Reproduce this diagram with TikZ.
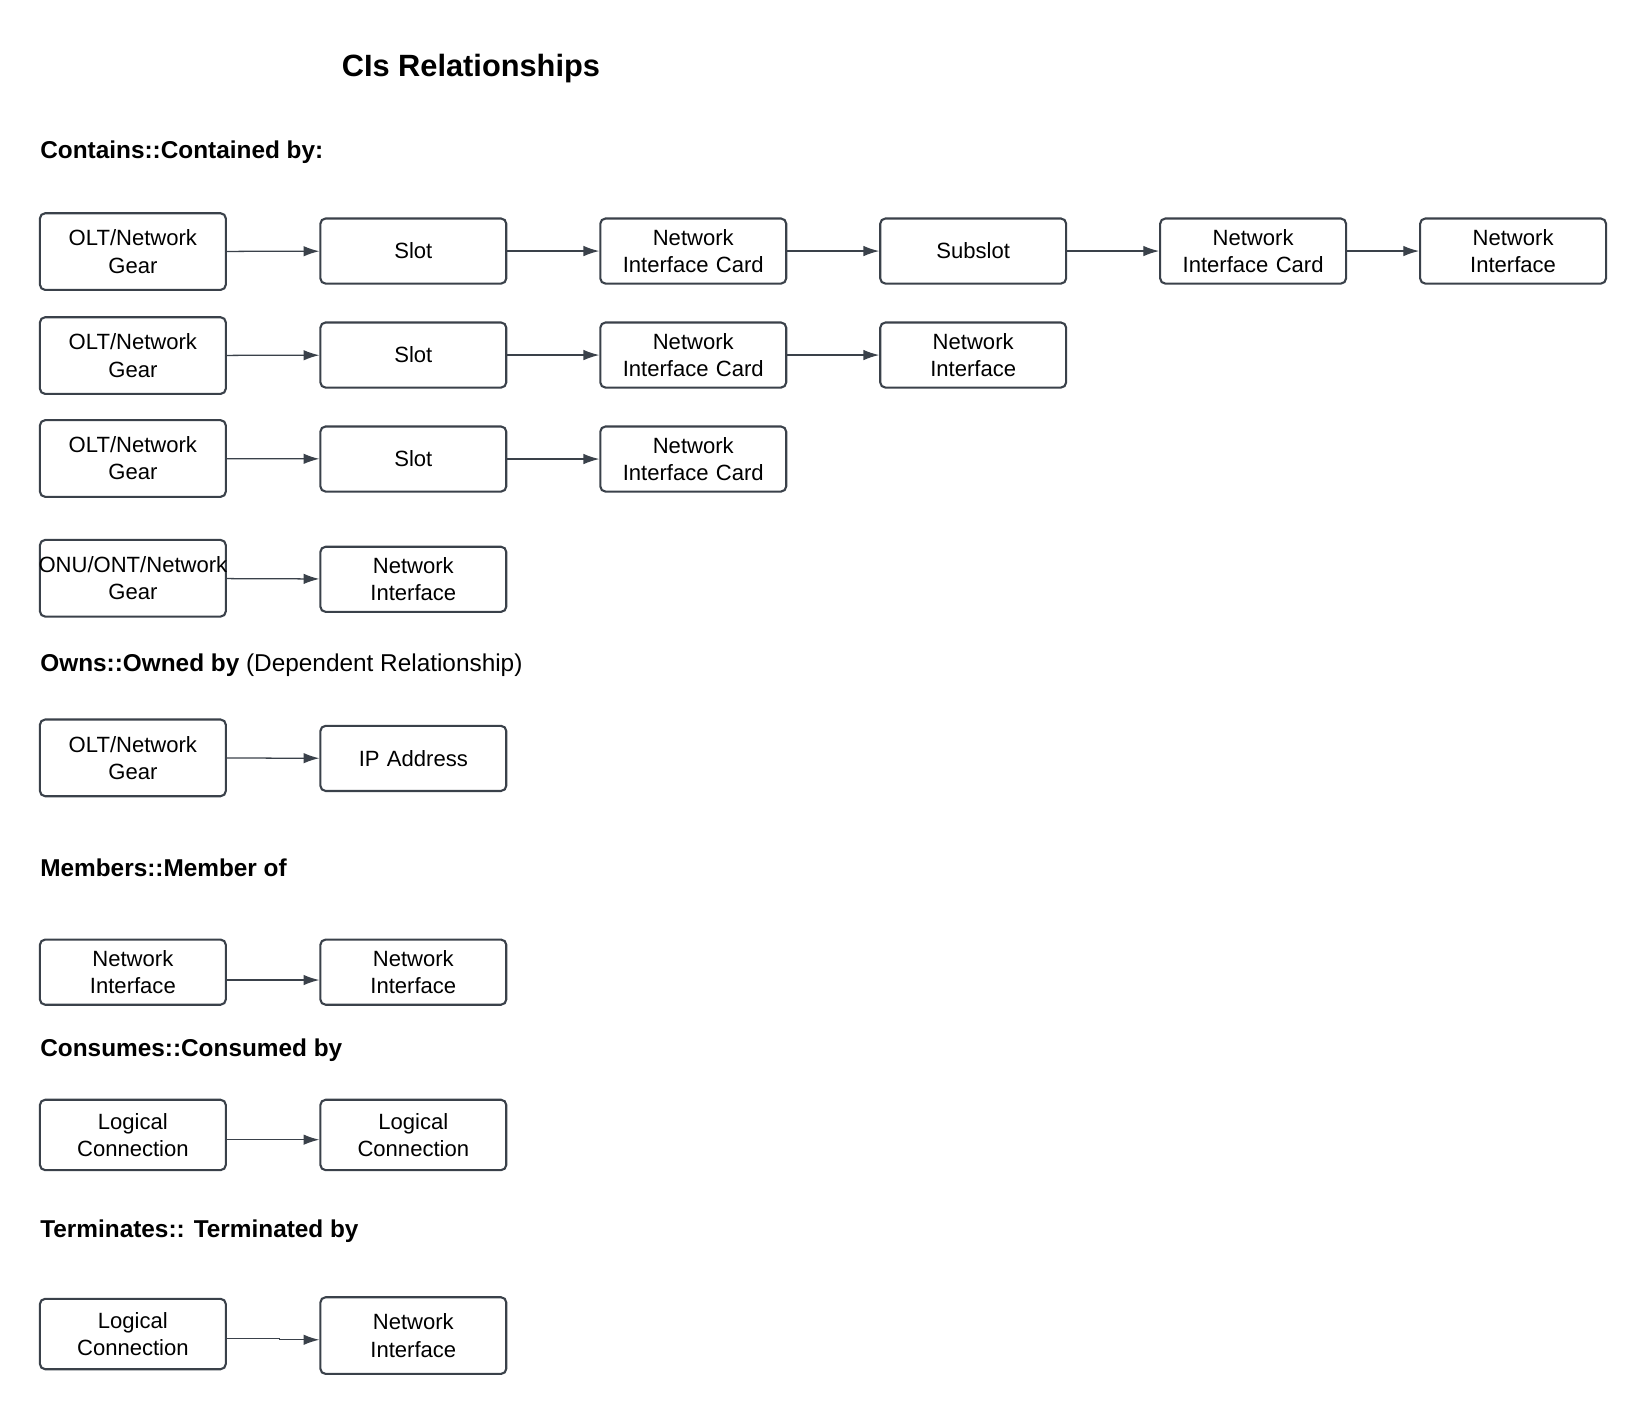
\documentclass[tikz,border=0pt]{standalone}
\usepackage{fontspec}
\setmainfont{Liberation Sans}
\usepackage{tikz}
\usepackage{xcolor}
\usetikzlibrary{arrows.meta}
\definecolor{cigray}{HTML}{3A414A}
\newcommand{\boxfont}{\fontsize{10.5}{12.9}\selectfont}
\newcommand{\headfont}{\fontsize{11.6}{14}\selectfont\bfseries}
\newcommand{\titlefont}{\fontsize{14.65}{17}\selectfont\bfseries}
\tikzset{>={Latex[length=7.5pt,width=5pt]}}
\tikzset{
  ci/.style={draw=cigray, line width=1pt, rounded corners=2.5pt, text width=84pt,
    inner xsep=2.25pt, inner ysep=0pt, align=center, minimum height=31pt, font=\boxfont},
  citall/.style={ci, minimum height=36.5pt},
  cimid/.style={ci, minimum height=33.5pt},
  rel/.style={->, draw=cigray, line width=0.6pt},
  head/.style={anchor=base west, inner sep=0pt, font=\headfont}
}

\begin{document}
\begin{tikzpicture}[x=0.5pt, y=-0.5pt]
    \useasboundingbox (0, 0) rectangle (1568, 1346);
    \node[anchor=base west, inner sep=0pt, font=\titlefont] (title) at (325, 73) {CIs Relationships};
    % contains
    \node[head] (hcont) at (38, 151) {Contains::Contained by:};
    \node[citall] (g1) at (126.5, 239.5) {OLT/Network\\Gear};
    \node[ci] (s1) at (393.5, 239) {Slot};
    \node[ci] (c1) at (660, 239) {Network\\Interface Card};
    \node[ci] (u1) at (926.5, 239) {Subslot};
    \node[ci] (c1b) at (1193, 239) {Network\\Interface Card};
    \node[ci] (n1) at (1440.5, 239) {Network\\Interface};
    \draw[rel] (g1) -- (s1);
    \draw[rel] (s1) -- (c1);
    \draw[rel] (c1) -- (u1);
    \draw[rel] (u1) -- (c1b);
    \draw[rel] (c1b) -- (n1);
    \node[citall] (g2) at (126.5, 338.5) {OLT/Network\\Gear};
    \node[ci] (s2) at (393.5, 338) {Slot};
    \node[ci] (c2) at (660, 338) {Network\\Interface Card};
    \node[ci] (n2) at (926.5, 338) {Network\\Interface};
    \draw[rel] (g2) -- (s2);
    \draw[rel] (s2) -- (c2);
    \draw[rel] (c2) -- (n2);
    \node[citall] (g3) at (126.5, 436.5) {OLT/Network\\Gear};
    \node[ci] (s3) at (393.5, 437) {Slot};
    \node[ci] (c3) at (660, 437) {Network\\Interface Card};
    \draw[rel] (g3) -- (s3);
    \draw[rel] (s3) -- (c3);
    \node[citall] (o4) at (126.5, 550.5) {\makebox[\linewidth]{ONU/ONT/Network}\\Gear};
    \node[ci] (n4) at (393.5, 551.5) {Network\\Interface};
    \draw[rel] (o4) -- (n4);
    % owns
    \node[head] (hown) at (38, 639) {Owns::Owned by \mdseries(Dependent Relationship)};
    \node[citall] (g5) at (126.5, 721.5) {OLT/Network\\Gear};
    \node[ci] (ip5) at (393.5, 722) {IP Address};
    \draw[rel] (g5) -- (ip5);
    % members
    \node[head] (hmem) at (38, 834) {Members::Member of};
    \node[ci] (m1) at (126.5, 925.5) {Network\\Interface};
    \node[ci] (m2) at (393.5, 925.5) {Network\\Interface};
    \draw[rel] ([yshift=-3.75pt]m1.east) -- ([yshift=-3.75pt]m2.west);
    % consumes
    \node[head] (hcons) at (38, 1006) {Consumes::Consumed by};
    \node[cimid] (l1) at (126.5, 1080.5) {Logical\\Connection};
    \node[cimid] (l2) at (393.5, 1080.5) {Logical\\Connection};
    \draw[rel] ([yshift=-2.25pt]l1.east) -- ([yshift=-2.25pt]l2.west);
    % terminates
    \node[head] (hterm) at (38, 1178) {Terminates:: Terminated by};
    \node[cimid] (t1) at (126.5, 1270) {Logical\\Connection};
    \node[citall] (t2) at (393.5, 1271.5) {Network\\Interface};
    \draw[rel] ([yshift=-2.25pt]t1.east) -- ++(50, 0) |- ([yshift=-2pt]t2.west);
\end{tikzpicture}
\end{document}
